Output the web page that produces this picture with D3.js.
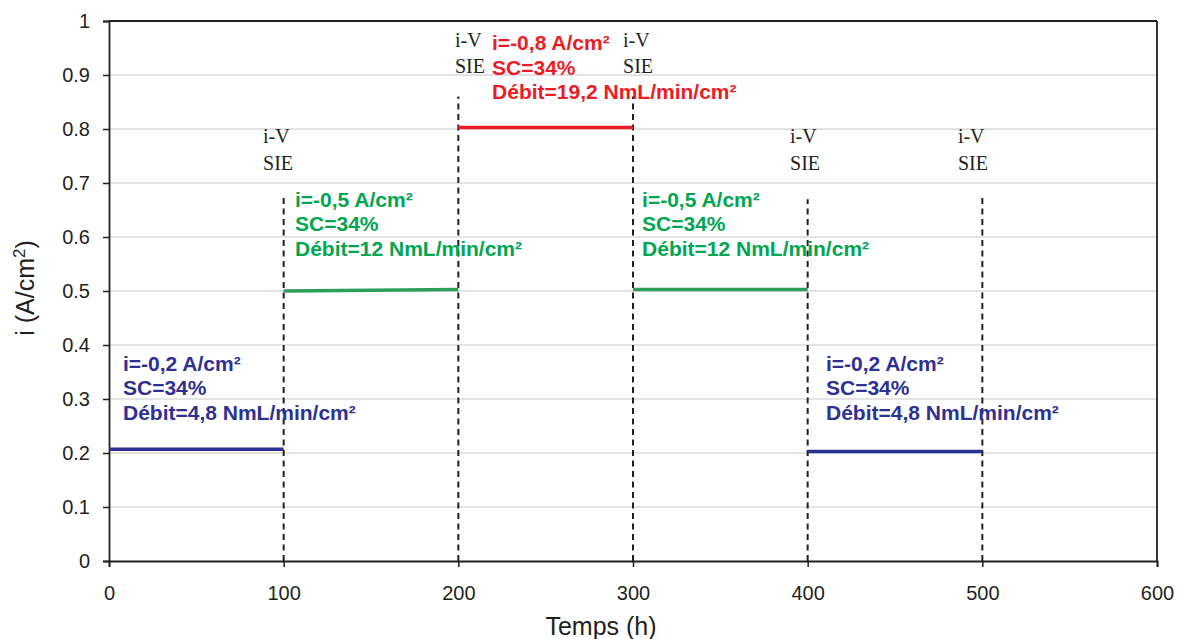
<!DOCTYPE html>
<html><head><meta charset="utf-8">
<script src="https://cdn.jsdelivr.net/npm/d3@7"></script>
<style>body{margin:0;background:#fff}svg{display:block}</style>
</head><body><svg id="c" width="1181" height="639"></svg>
<script>
const xTicks = [0,100,200,300,400,500,600];
const yTicks = [0,0.1,0.2,0.3,0.4,0.5,0.6,0.7,0.8,0.9,1];
const segStart = [0,100,200,300,400];
const segEnd = [100,200,300,400,500];
const segStartVal = [0.207,0.500,0.803,0.503,0.203];
const segEndVal = [0.207,0.503,0.803,0.503,0.203];
const segColor = ["#2e3192","#2e9e5b","#ed1c24","#2e9e5b","#2e3192"];
const dashX = [100,200,300,400,500];
const dashTop = [0.68,0.86,0.86,0.67,0.68];
const ivLabelX = [88.2,198.1,294.3,389.9,486];
const ivLabelY = [0.774,0.952,0.952,0.774,0.774];
const annX = [8,106.5,219.3,305.2,410.5];
const annY = [0.352,0.656,0.946,0.656,0.352];
const annColor = ["#2e3192","#00a651","#ed1c24","#00a651","#2e3192"];
const annI = ["i=-0,2 A/cm²","i=-0,5 A/cm²","i=-0,8 A/cm²","i=-0,5 A/cm²","i=-0,2 A/cm²"];
const annSC = ["SC=34%","SC=34%","SC=34%","SC=34%","SC=34%"];
const annDebit = ["Débit=4,8 NmL/min/cm²","Débit=12 NmL/min/cm²","Débit=19,2 NmL/min/cm²","Débit=12 NmL/min/cm²","Débit=4,8 NmL/min/cm²"];

const svg = d3.select("#c");
const x = d3.scaleLinear().domain([0,600]).range([109,1157]);
const y = d3.scaleLinear().domain([0,1]).range([561,21]);

// gridlines
svg.append("g").selectAll("line").data(yTicks.filter(d=>d>0&&d<1)).join("line")
  .attr("x1",x(0)).attr("x2",x(600)).attr("y1",d=>y(d)).attr("y2",d=>y(d))
  .attr("stroke","#c8c8c8").attr("stroke-width",1.2);
// box top/right
svg.append("line").attr("x1",x(0)).attr("x2",x(600)).attr("y1",y(1)).attr("y2",y(1)).attr("stroke","#231f20").attr("stroke-width",1.8);
svg.append("line").attr("x1",x(600)).attr("x2",x(600)).attr("y1",y(1)).attr("y2",y(0)).attr("stroke","#231f20").attr("stroke-width",1.8);

// axes
const yAxis = svg.append("g").attr("transform",`translate(${x(0)},0)`)
  .call(d3.axisLeft(y).tickValues(yTicks).tickFormat(d=>String(+d.toFixed(1))).tickSize(6).tickPadding(13));
const xAxis = svg.append("g").attr("transform",`translate(0,${y(0)})`)
  .call(d3.axisBottom(x).tickValues(xTicks).tickSize(6).tickPadding(19));
[yAxis,xAxis].forEach(a=>{
  a.select(".domain").attr("stroke","#231f20").attr("stroke-width",1.8);
  a.selectAll(".tick line").attr("stroke","#231f20").attr("stroke-width",1.5);
  a.selectAll("text").attr("font-family","Liberation Sans, Arial, sans-serif").attr("font-size",20).attr("fill","#231f20");
});

// dashed lines
svg.append("g").selectAll("line").data(dashX).join("line")
  .attr("x1",d=>x(d)).attr("x2",d=>x(d)).attr("y1",y(0)).attr("y2",(d,i)=>y(dashTop[i]))
  .attr("stroke","#231f20").attr("stroke-width",2).attr("stroke-dasharray","6,4.5");

// segments
svg.append("g").selectAll("line").data(segStart).join("line")
  .attr("x1",d=>x(d)).attr("x2",(d,i)=>x(segEnd[i]))
  .attr("y1",(d,i)=>y(segStartVal[i])).attr("y2",(d,i)=>y(segEndVal[i]))
  .attr("stroke",(d,i)=>segColor[i]).attr("stroke-width",3.5);

// i-V SIE labels
const iv = svg.append("g").selectAll("text").data(ivLabelX).join("text")
  .attr("x",d=>x(d)).attr("y",(d,i)=>y(ivLabelY[i]))
  .attr("font-family","Liberation Serif, Times New Roman, serif").attr("font-size",20).attr("fill","#231f20");
iv.append("tspan").text("i-V");
iv.append("tspan").attr("x",d=>x(d)).attr("dy",26.5).text("SIE");

// annotations
const an = svg.append("g").selectAll("text").data(annX).join("text")
  .attr("x",d=>x(d)).attr("y",(d,i)=>y(annY[i]))
  .attr("font-family","Liberation Sans, Arial, sans-serif").attr("font-weight","bold").attr("font-size",21)
  .attr("fill",(d,i)=>annColor[i]);
an.append("tspan").text((d,i)=>annI[i]);
an.append("tspan").attr("x",d=>x(d)).attr("dy",24.5).text((d,i)=>annSC[i]);
an.append("tspan").attr("x",d=>x(d)).attr("dy",24.5).text((d,i)=>annDebit[i]);

// axis titles
svg.append("text").attr("x",601).attr("y",635).attr("text-anchor","middle")
  .attr("font-family","Liberation Sans, Arial, sans-serif").attr("font-size",25).attr("fill","#231f20").text("Temps (h)");
const yt = svg.append("text").attr("transform","translate(34,288) rotate(-90)").attr("text-anchor","middle")
  .attr("font-family","Liberation Sans, Arial, sans-serif").attr("font-size",25).attr("fill","#231f20");
yt.append("tspan").text("i (A/cm");
yt.append("tspan").attr("dy",-9).attr("font-size",17).text("2");
yt.append("tspan").attr("dy",9).text(")");
</script></body></html>
